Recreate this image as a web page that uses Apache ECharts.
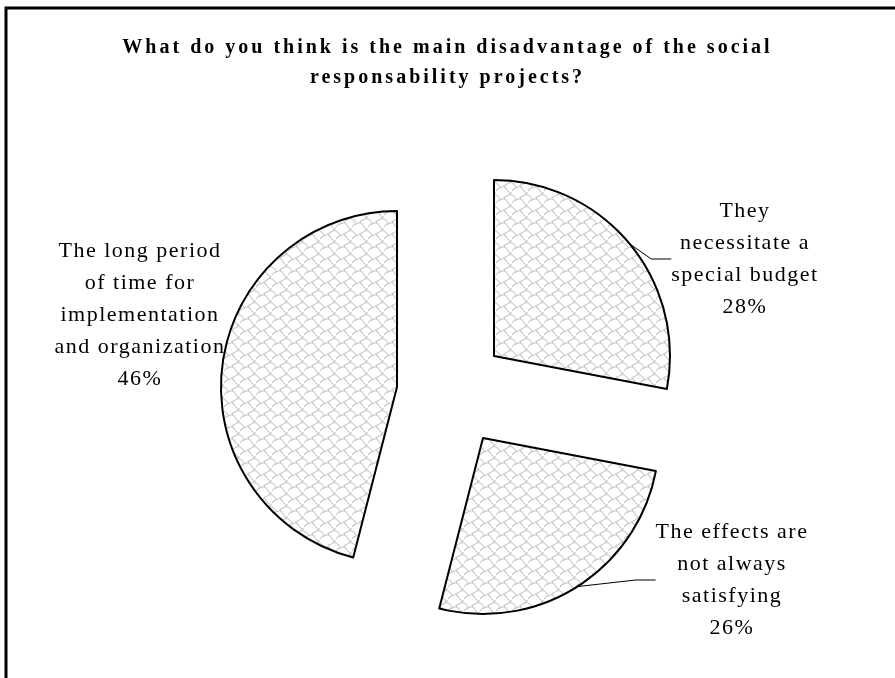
<!DOCTYPE html>
<html>
<head>
<meta charset="utf-8">
<script src="https://cdn.jsdelivr.net/npm/echarts@6/dist/echarts.min.js"></script>
<style>
html,body{margin:0;padding:0;background:#fff;}
#chart{width:895px;height:678px;}
</style>
</head>
<body>
<div id="chart"></div>
<script>
var titleText = 'What do you think is the main disadvantage of the social\nresponsability projects?';
var categories = ['They\nnecessitate a\nspecial budget', 'The effects are\nnot always\nsatisfying', 'The long period\nof time for\nimplementation\nand organization'];
var values = [28, 26, 46];

// Excel-like letter spacing for canvas text (style only)
(function () {
  var P = CanvasRenderingContext2D.prototype;
  function spacing(ctx) { return /bold/.test(ctx.font) ? '3px' : '1.5px'; }
  var oFill = P.fillText, oMeasure = P.measureText;
  P.fillText = function (t, x, y, m) {
    var prev = this.letterSpacing;
    this.letterSpacing = spacing(this);
    var r = m === undefined ? oFill.call(this, t, x, y) : oFill.call(this, t, x, y, m);
    this.letterSpacing = prev;
    return r;
  };
  P.measureText = function (t) {
    var prev = this.letterSpacing;
    this.letterSpacing = spacing(this);
    var r = oMeasure.call(this, t);
    this.letterSpacing = prev;
    return r;
  };
})();

function makePattern() {
  var c = document.createElement('canvas');
  c.width = 16; c.height = 12;
  var ctx = c.getContext('2d');
  ctx.fillStyle = '#ffffff';
  ctx.fillRect(0, 0, 16, 12);
  ctx.strokeStyle = '#c6c6c6';
  ctx.lineWidth = 1.1;
  ctx.beginPath();
  ctx.moveTo(0, 11);
  ctx.bezierCurveTo(3, 6, 6, 9, 8, 6);
  ctx.bezierCurveTo(10, 3, 13, 6, 16, -1);
  ctx.moveTo(0, -1);
  ctx.bezierCurveTo(3, -6, 6, -3, 8, -6);
  ctx.moveTo(8, 6);
  ctx.bezierCurveTo(10, 8, 11, 10, 13, 12);
  ctx.moveTo(13, 0);
  ctx.bezierCurveTo(14, 2, 15, 3, 16, 3);
  ctx.moveTo(0, 3);
  ctx.bezierCurveTo(2, 4, 3, 5, 4, 7);
  ctx.stroke();
  return c;
}
var pattern = makePattern();

var centers = [[494, 356], [483, 438], [397, 387]];
var labelPos = [[745, 259], [732, 580], [140, 315]];
var font = 'Liberation Serif, Times New Roman, serif';

var series = [];
for (var s = 0; s < 3; s++) {
  (function (s) {
    var data = categories.map(function (name, i) {
      var visible = (i === s);
      return {
        name: name,
        value: values[i],
        itemStyle: visible ? {
          color: { image: pattern, repeat: 'repeat' },
          borderColor: '#000',
          borderWidth: 2
        } : { color: 'rgba(0,0,0,0)', borderWidth: 0 },
        label: { show: visible },
        labelLine: { show: visible && i !== 2 },
        emphasis: { disabled: true }
      };
    });
    series.push({
      type: 'pie',
      center: centers[s],
      radius: 176,
      startAngle: 90,
      clockwise: true,
      silent: true,
      animation: false,
      avoidLabelOverlap: false,
      data: data,
      label: {
        formatter: '{b}\n{d}%',
        fontFamily: font,
        fontSize: 22,
        lineHeight: 32,
        color: '#000',
        align: 'center'
      },
      labelLine: {
        show: true,
        length: 15,
        length2: 20,
        lineStyle: { color: '#000', width: 1 }
      },
      labelLayout: function () {
        return { x: labelPos[s][0], y: labelPos[s][1], align: 'center', verticalAlign: 'middle' };
      }
    });
  })(s);
}

var chart = echarts.init(document.getElementById('chart'), null, { renderer: 'canvas' });
chart.setOption({
  backgroundColor: '#fff',
  animation: false,
  title: {
    text: titleText,
    left: 'center',
    top: 28,
    textStyle: {
      fontFamily: font,
      fontWeight: 'bold',
      fontSize: 20,
      lineHeight: 30,
      color: '#000'
    }
  },
  graphic: [{
    type: 'rect',
    shape: { x: 6, y: 8, width: 1000, height: 1000 },
    style: { fill: null, stroke: '#000', lineWidth: 3 },
    silent: true
  }],
  series: series
});
</script>
</body>
</html>
